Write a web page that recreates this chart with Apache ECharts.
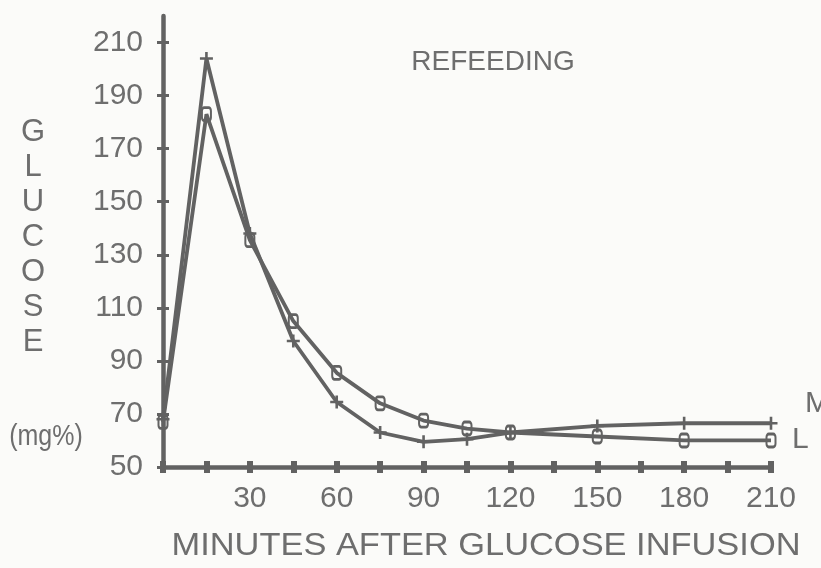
<!DOCTYPE html>
<html>
<head>
<meta charset="utf-8">
<script src="https://cdn.jsdelivr.net/npm/echarts@6/dist/echarts.min.js"></script>
<style>
  html, body { margin: 0; padding: 0; background: #fbfbf9; }
  #chart { width: 821px; height: 568px; }
</style>
</head>
<body>
<div id="chart"></div>
<script>
// minutes after infusion
const minutes = [0, 15, 30, 45, 60, 75, 90, 105, 120, 150, 180, 210]
// glucose (mg%), M = "+" curve, L = "o" curve
const seriesM = [68, 204, 138, 97.5, 74.5, 63, 59.5, 60.5, 63, 65.5, 66.5, 66.5]
const seriesL = [67, 183, 135.5, 105, 85.5, 74, 67.5, 64.5, 63, 61.5, 60, 60]
const yTicks = [50, 70, 90, 110, 130, 150, 170, 190, 210]
const xTicks = [0, 15, 30, 45, 60, 75, 90, 105, 120, 135, 150, 165, 180, 195, 210]
const xLabels = [30, 60, 90, 120, 150, 180, 210]

const ink = '#626262'
const txt = '#6e6e6e'
const font = 'Liberation Sans'

const plus = 'path://M4,0H6V4H10V6H6V10H4V6H0V4H4Z'

const chart = echarts.init(document.getElementById('chart'))

const baseX = {
  type: 'value', min: 0, max: 210, gridIndex: 0, position: 'bottom', splitLine: { show: false }
}
const baseY = {
  type: 'value', min: 50, max: 220, gridIndex: 0, position: 'left', splitLine: { show: false }
}

chart.setOption({
  backgroundColor: '#fbfbf9',
  animation: false,
  grid: { left: 163, right: 50, top: 16, bottom: 101 },
  xAxis: [
    Object.assign({}, baseX, {
      axisLine: { lineStyle: { color: ink, width: 4.5 } },
      axisTick: { customValues: xTicks, length: 6, lineStyle: { color: ink, width: 6 } },
      axisLabel: {
        customValues: xLabels, margin: 17,
        color: txt, fontFamily: font, fontSize: 30
      }
    }),
    Object.assign({}, baseX, {
      axisLine: { show: false },
      axisTick: { customValues: xTicks, inside: true, length: 6, lineStyle: { color: ink, width: 6 } },
      axisLabel: { show: false }
    })
  ],
  yAxis: [
    Object.assign({}, baseY, {
      axisLine: { lineStyle: { color: ink, width: 4.5 } },
      axisTick: { customValues: yTicks, length: 6, lineStyle: { color: ink, width: 3 } },
      axisLabel: {
        customValues: yTicks, margin: 20,
        color: txt, fontFamily: font, fontSize: 30
      }
    }),
    Object.assign({}, baseY, {
      axisLine: { show: false },
      axisTick: { customValues: yTicks, inside: true, length: 6, lineStyle: { color: ink, width: 3 } },
      axisLabel: { show: false }
    })
  ],
  series: [
    {
      name: 'M', type: 'line',
      data: minutes.map((m, i) => [m, seriesM[i]]),
      symbol: plus, symbolSize: 13,
      lineStyle: { color: ink, width: 3.8 },
      itemStyle: { color: ink }
    },
    {
      name: 'L', type: 'line',
      data: minutes.map((m, i) => [m, seriesL[i]]),
      symbol: 'roundRect', symbolSize: [9, 13],
      lineStyle: { color: ink, width: 3.8 },
      itemStyle: { color: 'rgba(0,0,0,0)', borderColor: ink, borderWidth: 2.4 }
    }
  ],
  graphic: [
    { type: 'text', x: 493, y: 62, style: { text: 'REFEEDING', fill: txt, font: '28px ' + font, align: 'center', verticalAlign: 'middle' } },
    {
      type: 'text', x: 33, y: 237,
      style: {
        text: 'G\nL\nU\nC\nO\nS\nE', fill: txt, font: '31px ' + font,
        lineHeight: 35, align: 'center', verticalAlign: 'middle'
      }
    },
    { type: 'text', x: 46, y: 437, scaleY: 1.15, originX: 0, originY: 0, style: { text: '(mg%)', fill: txt, font: '25px ' + font, align: 'center', verticalAlign: 'middle' } },
    { type: 'text', x: 805, y: 404, style: { text: 'M', fill: txt, font: '30px ' + font, verticalAlign: 'middle' } },
    { type: 'text', x: 792, y: 440, style: { text: 'L', fill: txt, font: '30px ' + font, verticalAlign: 'middle' } },
    {
      type: 'text', x: 486, y: 546, scaleX: 1.11, originX: 0, originY: 0,
      style: { text: 'MINUTES AFTER GLUCOSE INFUSION', fill: txt, font: '31px ' + font, align: 'center', verticalAlign: 'middle' }
    }
  ]
})
</script>
</body>
</html>
